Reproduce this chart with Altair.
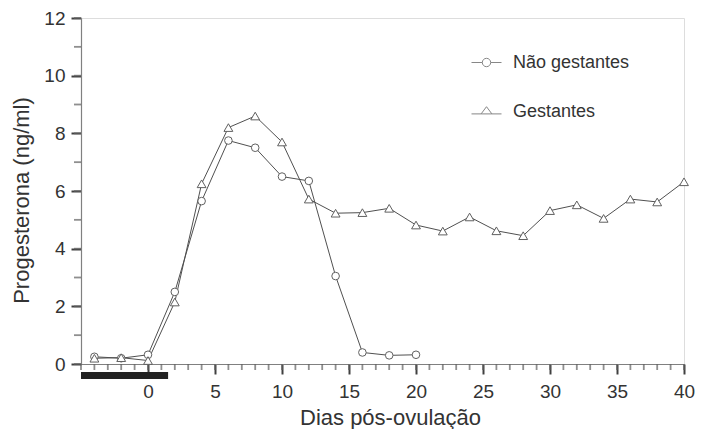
import altair as alt
import pandas as pd

# ---- data ----
series_names = ["Não gestantes", "Gestantes"]

days_nao = [-4, -2, 0, 2, 4, 6, 8, 10, 12, 14, 16, 18, 20]
prog_nao = [0.25, 0.2, 0.32, 2.5, 5.65, 7.75, 7.5, 6.5, 6.35, 3.05, 0.4, 0.3, 0.32]

days_ges = [-4, -2, 0, 2, 4, 6, 8, 10, 12, 14, 16, 18, 20, 22, 24, 26, 28, 30, 32, 34, 36, 38, 40]
prog_ges = [0.2, 0.22, 0.12, 2.15, 6.25, 8.2, 8.6, 7.7, 5.72, 5.23, 5.25, 5.4, 4.82, 4.61, 5.1, 4.62, 4.45, 5.32, 5.52, 5.05, 5.72, 5.62, 6.32]

bar_start = [-5]
bar_end = [1.5]

x_major = list(range(0, 41, 5))
x_minor = list(range(-5, 41))
y_major = list(range(0, 13, 2))
y_minor = list(range(0, 13))

# ---- build tables ----
df = pd.DataFrame(
    {
        "dia": days_nao + days_ges,
        "prog": prog_nao + prog_ges,
        "grupo": [series_names[0]] * len(days_nao) + [series_names[1]] * len(days_ges),
    }
)
bar_df = pd.DataFrame({"x0": bar_start, "x1": bar_end})
xmin_df = pd.DataFrame({"v": x_minor})
ymin_df = pd.DataFrame({"v": y_minor})

W, H = 603, 346
PAD_L, PAD_T = 73, 10
FONT = "Liberation Sans"
TXT = "#333333"
MAJ = "#404040"
MIN = "#606060"

x_scale = alt.Scale(domain=[-5, 40], nice=False, zero=False)
y_scale = alt.Scale(domain=[0, 12], nice=False)

x_axis = alt.Axis(
    orient="bottom",
    values=x_major,
    ticks=True,
    tickColor=MAJ,
    tickWidth=2,
    tickSize=10,
    labelOverlap=False,
    labelFlush=False,
    grid=False,
    domainColor="#808080",
    domainWidth=1.2,
    labelPadding=8,
    labelFontSize=19,
    labelColor=TXT,
    labelFont=FONT,
    title="Dias pós-ovulação",
    titleFontSize=22,
    titleFontWeight="normal",
    titleColor=TXT,
    titleFont=FONT,
    titlePadding=6,
    titleX=309,
)
y_axis = alt.Axis(
    orient="left",
    values=y_major,
    ticks=True,
    tickColor=MAJ,
    tickWidth=2,
    tickSize=10,
    labelOverlap=False,
    labelFlush=False,
    grid=False,
    domainColor="#808080",
    domainWidth=1.2,
    labelPadding=6,
    labelFontSize=19,
    labelColor=TXT,
    labelFont=FONT,
    title="Progesterona (ng/ml)",
    titleFontSize=22,
    titleFontWeight="normal",
    titleColor=TXT,
    titleFont=FONT,
    titlePadding=10,
    titleY=182,
)

base = alt.Chart(df)

lines = base.mark_line(color="#505050", strokeWidth=1).encode(
    x=alt.X("dia:Q", scale=x_scale, axis=x_axis),
    y=alt.Y("prog:Q", scale=y_scale, axis=y_axis),
    detail="grupo:N",
)

points = base.mark_point(filled=True, fill="white", stroke="#606060", strokeWidth=1, opacity=1).encode(
    x=alt.X("dia:Q", scale=x_scale),
    y=alt.Y("prog:Q", scale=y_scale),
    shape=alt.Shape(
        "grupo:N",
        scale=alt.Scale(domain=series_names, range=["circle", "triangle-up"]),
        legend=None,
    ),
    size=alt.Size(
        "grupo:N",
        scale=alt.Scale(domain=series_names, range=[58, 78]),
        legend=None,
    ),
)

circ_path = (
    "M-1,0L-0.28,0M0.28,0L1,0"
    "M0.28,0A0.28,0.28,0,1,1,-0.28,0A0.28,0.28,0,1,1,0.28,0Z"
)
tri_path = "M-1,0.16L-0.36,0.16M0.36,0.16L1,0.16M0,-0.32L0.36,0.16L-0.36,0.16Z"

legend_layer = (
    base.transform_filter("false")
    .mark_point(filled=False, color="#555555", strokeWidth=1, size=900)
    .encode(
        x=alt.X("dia:Q", scale=x_scale),
        y=alt.Y("prog:Q", scale=y_scale),
        shape=alt.Shape(
            "grupo:N",
            scale=alt.Scale(domain=series_names, range=[circ_path, tri_path]),
            legend=alt.Legend(
                title=None,
                orient="none",
                legendX=390,
                legendY=29,
                symbolSize=900,
                symbolStrokeWidth=1,
                symbolStrokeColor="#555555",
                labelFontSize=18,
                labelFont=FONT,
                labelColor=TXT,
                labelOffset=11,
                rowPadding=24,
                padding=0,
            ),
        ),
    )
)

# minor tick marks drawn from the tick arrays through the scales
xmin_ticks = alt.Chart(xmin_df).mark_tick(orient="vertical", color=MIN, size=6, thickness=1.8).encode(
    x=alt.X("v:Q", scale=x_scale), y=alt.value(H + 3)
)
ymin_ticks = alt.Chart(ymin_df).mark_tick(orient="horizontal", color=MIN, size=7, thickness=1.8).encode(
    y=alt.Y("v:Q", scale=y_scale), x=alt.value(-3.5)
)

bar = alt.Chart(bar_df).mark_rect(color="#222222").encode(
    x=alt.X("x0:Q", scale=x_scale),
    x2="x1:Q",
    y=alt.value(H + 8),
    y2=alt.value(H + 15),
)

chart = (
    alt.layer(lines, xmin_ticks, ymin_ticks, bar, points, legend_layer)
    .resolve_scale(shape="independent", size="independent")
    .properties(
        width=W,
        height=H,
        autosize=alt.AutoSizeParams(type="none"),
        padding={"left": PAD_L, "top": PAD_T, "right": 688 - PAD_L - W, "bottom": 421 - PAD_T - H},
    )
    .configure_view(stroke=None)
    .configure(background="white")
)

chart.save("out.html", embed_options={"renderer": "svg", "actions": False})
